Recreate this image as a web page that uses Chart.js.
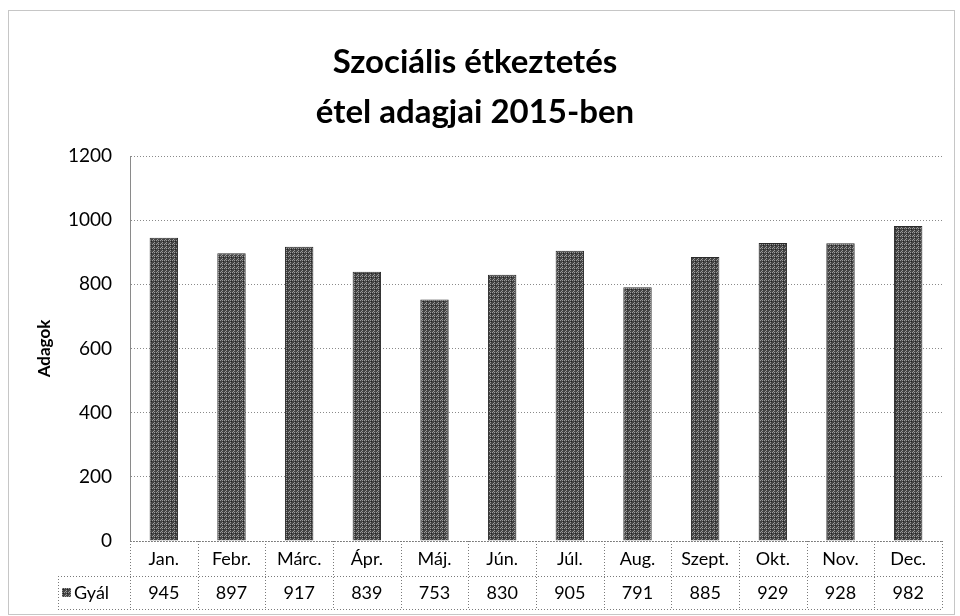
<!DOCTYPE html>
<html>
<head>
<meta charset="utf-8">
<script src="https://cdn.jsdelivr.net/npm/chart.js@4/dist/chart.umd.min.js"></script>
<style>
    html, body { margin: 0; padding: 0; background: #ffffff; }
    #wrap { width: 960px; height: 616px; position: relative; }
</style>
</head>
<body>
<div id="wrap"><canvas id="adagChart"></canvas></div>
<script>
var months = ['Jan.', 'Febr.', 'Márc.', 'Ápr.', 'Máj.', 'Jún.', 'Júl.', 'Aug.', 'Szept.', 'Okt.', 'Nov.', 'Dec.'];
var gyalValues = [945, 897, 917, 839, 753, 830, 905, 791, 885, 929, 928, 982];
var seriesName = 'Gyál';
var yTicks = [0, 200, 400, 600, 800, 1000, 1200];
var titleLines = ['Szociális étkeztetés', 'étel adagjai 2015-ben'];

var FONT = 'Lato, "Noto Sans", sans-serif';

function makeBarPattern() {
    var c = document.createElement('canvas');
    c.width = 4;
    c.height = 4;
    var g = c.getContext('2d');
    g.fillStyle = '#444444';
    g.fillRect(0, 0, 4, 4);
    g.fillStyle = '#9a9a9a';
    g.fillRect(0, 0, 1, 1);
    g.fillRect(2, 2, 1, 1);
    g.fillRect(2, 0, 1, 1);
    g.fillRect(1, 3, 1, 1);
    g.fillStyle = '#222222';
    g.fillRect(3, 1, 1, 1);
    return g.createPattern(c, 'repeat');
}

var barPattern = makeBarPattern();

// outer frame + data table under the plot
var tablePlugin = {
    id: 'dataTable',
    beforeDraw: function(chart) {
        var ctx = chart.ctx;
        ctx.save();
        ctx.strokeStyle = '#8c8c8c';
        ctx.lineWidth = 1;
        ctx.setLineDash([1, 1]);
        ctx.strokeRect(8.5, 10.5, 946, 604);
        ctx.restore();
    },
    afterDraw: function(chart) {
        var ctx = chart.ctx;
        var x = chart.scales.x;
        var area = chart.chartArea;
        var top = area.bottom;
        var mid = top + 35;
        var bot = mid + 33;
        var keyLeft = 58;
        var half = (x.getPixelForValue(1) - x.getPixelForValue(0)) / 2;

        ctx.save();
        ctx.strokeStyle = '#7a7a7a';
        ctx.lineWidth = 1;
        ctx.setLineDash([1, 2]);
        ctx.beginPath();
        ctx.moveTo(area.left, top + 0.5);
        ctx.lineTo(area.right, top + 0.5);
        ctx.moveTo(keyLeft, mid + 0.5);
        ctx.lineTo(area.right, mid + 0.5);
        ctx.moveTo(keyLeft, bot + 0.5);
        ctx.lineTo(area.right, bot + 0.5);
        ctx.moveTo(keyLeft + 0.5, mid);
        ctx.lineTo(keyLeft + 0.5, bot);
        ctx.moveTo(Math.round(area.left) + 0.5, top);
        ctx.lineTo(Math.round(area.left) + 0.5, bot);
        for (var i = 0; i < months.length; i++) {
            var bx = Math.round(x.getPixelForValue(i) + half) + 0.5;
            ctx.moveTo(bx, top);
            ctx.lineTo(bx, bot);
        }
        ctx.stroke();
        ctx.setLineDash([]);

        // legend key
        ctx.fillStyle = barPattern;
        ctx.fillRect(62, mid + 12, 9, 9);

        ctx.fillStyle = '#000000';
        ctx.font = '18px ' + FONT;
        ctx.textBaseline = 'middle';
        ctx.textAlign = 'left';
        ctx.fillText(seriesName, 74, mid + 17);
        ctx.textAlign = 'center';
        gyalValues.forEach(function(v, idx) {
            ctx.fillText(String(v), x.getPixelForValue(idx), mid + 17);
        });
        ctx.restore();
    }
};

var ctx = document.getElementById('adagChart').getContext('2d');
new Chart(ctx, {
    type: 'bar',
    data: {
        labels: months,
        datasets: [{
            label: seriesName,
            data: gyalValues,
            backgroundColor: barPattern,
            borderColor: '#2a2a2a',
            borderWidth: 1,
            barPercentage: 0.42,
            categoryPercentage: 1
        }]
    },
    options: {
        responsive: true,
        maintainAspectRatio: false,
        animation: false,
        layout: {
            padding: { left: 8, right: 18, top: 8, bottom: 40 }
        },
        plugins: {
            legend: { display: false },
            tooltip: { enabled: false },
            title: {
                display: true,
                text: titleLines,
                color: '#000000',
                font: { family: FONT, size: 33, weight: 'bold', lineHeight: 1.5 },
                padding: { top: 30, bottom: 19 }
            }
        },
        scales: {
            x: {
                grid: { display: false, drawTicks: false },
                border: { display: false },
                ticks: {
                    color: '#000000',
                    padding: 7,
                    font: { family: FONT, size: 18 }
                },
                afterFit: function(scale) { scale.height = 35; }
            },
            y: {
                min: 0,
                max: 1200,
                afterBuildTicks: function(scale) {
                    scale.ticks = yTicks.map(function(v) { return { value: v }; });
                },
                grid: {
                    color: '#8a8a8a',
                    drawTicks: false
                },
                border: { display: true, color: '#8a8a8a', dash: [1, 2] },
                ticks: {
                    color: '#000000',
                    padding: 18,
                    font: { family: FONT, size: 19 },
                    callback: function(value) { return String(value); }
                },
                title: {
                    display: true,
                    text: 'Adagok',
                    color: '#000000',
                    font: { family: FONT, size: 17, weight: 'bold' },
                    padding: { top: 26, bottom: 0 }
                },
                afterFit: function(scale) { scale.width = 122; }
            }
        }
    },
    plugins: [tablePlugin]
});
</script>
</body>
</html>
